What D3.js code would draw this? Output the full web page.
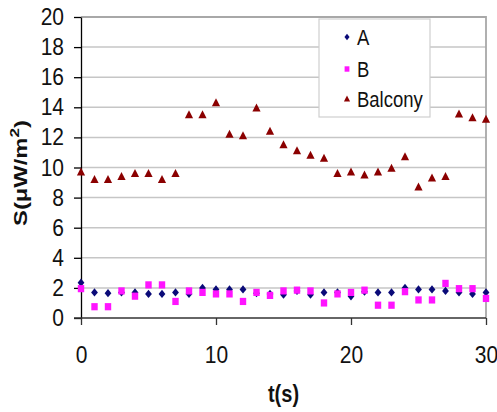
<!DOCTYPE html>
<html><head><meta charset="utf-8">
<script src="https://cdn.jsdelivr.net/npm/d3@7"></script>
<style>body{margin:0;background:#fff}svg{display:block}text{font-family:"Liberation Sans",Arial,sans-serif}</style>
</head><body>
<script>
const times = [0,1,2,3,4,5,6,7,8,9,10,11,12,13,14,15,16,17,18,19,20,21,22,23,24,25,26,27,28,29,30];
const seriesA = [2.35,1.7,1.65,1.7,1.7,1.6,1.6,1.7,1.6,2.0,1.9,1.9,1.9,1.65,1.6,1.55,1.8,1.55,1.7,1.7,1.45,1.75,1.7,1.7,2.0,1.9,1.9,1.8,1.7,1.6,1.7];
const seriesB = [1.95,0.75,0.75,1.8,1.45,2.2,2.2,1.1,1.8,1.7,1.6,1.6,1.1,1.7,1.5,1.8,1.85,1.8,1.0,1.6,1.7,1.85,0.85,0.85,1.75,1.2,1.2,2.3,1.95,1.95,1.3];
const seriesBalcony = [9.7,9.2,9.2,9.4,9.6,9.6,9.2,9.6,13.5,13.5,14.3,12.2,12.1,13.95,12.4,11.5,11.1,10.8,10.6,9.6,9.7,9.5,9.7,9.95,10.7,8.7,9.3,9.4,13.55,13.3,13.2];
const seriesNames = ["A","B","Balcony"];
const yTicks = [0,2,4,6,8,10,12,14,16,18,20];
const xTicks = [0,10,20,30];

const W = 497, H = 412, SY = 1.17;
const svg = d3.select("body").append("svg").attr("width", W).attr("height", H);
const x = d3.scaleLinear().domain([0, 30]).range([81, 486]);
const y = d3.scaleLinear().domain([0, 20]).range([318, 17]);

// gridlines
svg.append("g").selectAll("line").data(yTicks.filter(d => d > 0)).join("line")
  .attr("x1", x(0)).attr("x2", x(30)).attr("y1", d => y(d)).attr("y2", d => y(d))
  .attr("stroke", "#c6c6c6").attr("stroke-width", 1.5);
// plot border top/right
svg.append("path").attr("d", `M${x(0)},${y(20)}H${x(30)}V${y(0)}`)
  .attr("fill", "none").attr("stroke", "#a8a8a8").attr("stroke-width", 1.8);

// axes
const yAxis = svg.append("g").attr("transform", `translate(${x(0)},0)`)
  .call(d3.axisLeft(y).tickValues(yTicks).tickSize(7).tickSizeOuter(0).tickPadding(0));
yAxis.select(".domain").attr("stroke", "#000").attr("stroke-width", 1.3);
yAxis.selectAll(".tick line").attr("stroke", "#000").attr("stroke-width", 1.3);
yAxis.selectAll(".tick text").attr("x", null).attr("dy", null)
  .attr("transform", `translate(-17,7.5) scale(1,${SY})`)
  .attr("font-size", 21).attr("fill", "#111").attr("text-anchor", "end");

const xAxis = svg.append("g").attr("transform", `translate(0,${y(0)})`)
  .call(d3.axisBottom(x).tickValues(xTicks).tickSize(7).tickSizeOuter(0).tickPadding(0));
xAxis.select(".domain").attr("d", `M${x(0) - 7},0H${x(30)}`).attr("stroke", "#333").attr("stroke-width", 1.5);
xAxis.selectAll(".tick line").attr("stroke", "#333").attr("stroke-width", 1.3);
xAxis.selectAll(".tick text").attr("y", null).attr("dy", null)
  .attr("transform", `translate(0,45) scale(1,${SY})`)
  .attr("font-size", 21).attr("fill", "#111").attr("text-anchor", "middle");

// marker shapes
const shapes = {
  A: (s) => `M0,${-4.2*s}L${3.4*s},0L0,${4.2*s}L${-3.4*s},0Z`,
  B: (s) => `M${-3.2*s},${-3.6*s}H${3.2*s}V${3.6*s}H${-3.2*s}Z`,
  Balcony: (s) => `M0,${-4.6*s}L${4.1*s},${3.4*s}H${-4.1*s}Z`
};
const colors = { A: "#0a0a78", B: "#ff14ff", Balcony: "#8b0000" };
const dataMap = { A: seriesA, B: seriesB, Balcony: seriesBalcony };

seriesNames.forEach(name => {
  svg.append("g").selectAll("path").data(times.map((t, i) => [t, dataMap[name][i]])).join("path")
    .attr("d", shapes[name](1))
    .attr("transform", d => `translate(${x(d[0])},${y(d[1])})`)
    .attr("fill", colors[name]);
});

// legend
const lg = svg.append("g");
lg.append("rect").attr("x", 319).attr("y", 19).attr("width", 111).attr("height", 98)
  .attr("fill", "#fff").attr("stroke", "#cfcfcf").attr("stroke-width", 1.2);
const legY = [37, 69, 99];
seriesNames.forEach((name, i) => {
  lg.append("path").attr("d", shapes[name](0.75))
    .attr("transform", `translate(347,${legY[i]})`).attr("fill", colors[name]);
  lg.append("text").text(name)
    .attr("transform", `translate(357,${legY[i] + 7.5}) scale(1,${SY})`)
    .attr("font-size", 18.5).attr("fill", "#111");
});

// axis titles
svg.append("text").text("t(s)")
  .attr("transform", `translate(${(x(0) + x(30)) / 2},402) scale(1,${SY})`)
  .attr("text-anchor", "middle").attr("font-size", 20).attr("font-weight", "bold").attr("fill", "#111");
const yt = svg.append("text")
  .attr("transform", `translate(27,173) rotate(-90) scale(1.32,1)`)
  .attr("text-anchor", "middle").attr("font-size", 18).attr("font-weight", "bold").attr("fill", "#111");
yt.append("tspan").text("S(μW/m");
yt.append("tspan").text("2").attr("font-size", 13).attr("dy", -8);
yt.append("tspan").text(")").attr("dy", 8);
</script>
</body></html>
